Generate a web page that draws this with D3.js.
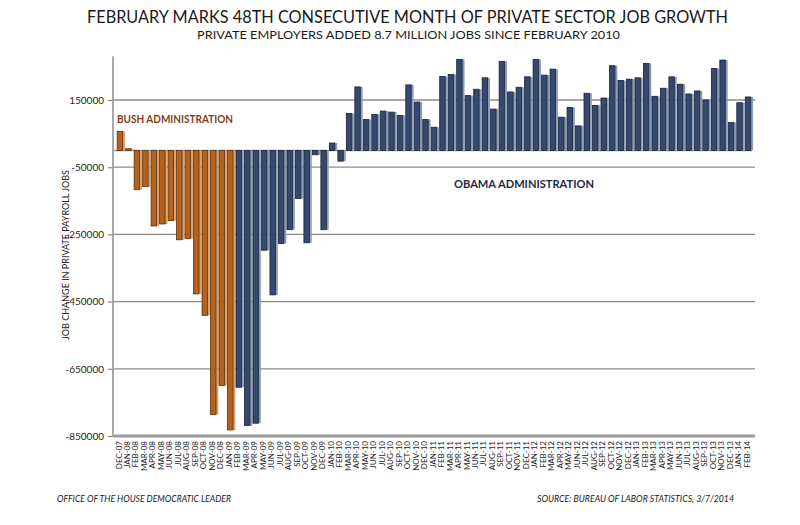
<!DOCTYPE html>
<html>
<head>
<meta charset="utf-8">
<script src="https://cdn.jsdelivr.net/npm/d3@7"></script>
<style>
html,body{margin:0;padding:0;background:#fff;}
svg{display:block;font-family:Lato,"Open Sans",sans-serif;}
</style>
</head>
<body>
<svg id="chart" width="800" height="525"></svg>
<script>
const months = ["DEC-07","JAN-08","FEB-08","MAR-08","APR-08","MAY-08","JUN-08","JUL-08","AUG-08","SEP-08","OCT-08","NOV-08","DEC-08",
"JAN-09","FEB-09","MAR-09","APR-09","MAY-09","JUN-09","JUL-09","AUG-09","SEP-09","OCT-09","NOV-09","DEC-09",
"JAN-10","FEB-10","MAR-10","APR-10","MAY-10","JUN-10","JUL-10","AUG-10","SEP-10","OCT-10","NOV-10","DEC-10",
"JAN-11","FEB-11","MAR-11","APR-11","MAY-11","JUN-11","JUL-11","AUG-11","SEP-11","OCT-11","NOV-11","DEC-11",
"JAN-12","FEB-12","MAR-12","APR-12","MAY-12","JUN-12","JUL-12","AUG-12","SEP-12","OCT-12","NOV-12","DEC-12",
"JAN-13","FEB-13","MAR-13","APR-13","MAY-13","JUN-13","JUL-13","AUG-13","SEP-13","OCT-13","NOV-13","DEC-13",
"JAN-14","FEB-14"];

// Bush administration: DEC-07 .. JAN-09
const bushJobs = [56000, 5000, -117000, -108000, -225000, -219000, -209000, -266000, -262000, -427000, -491000, -786000, -700000, -832000];

// Obama administration: FEB-09 .. FEB-14
const obamaJobs = [-705000, -819000, -812000, -297000, -430000, -277000, -236000, -143000, -275000, -13000, -236000, 22000, -32000,
110000, 189000, 92000, 107000, 117000, 114000, 104000, 195000, 144000, 92000, 69000, 220000,
226000, 271000, 163000, 182000, 216000, 123000, 265000, 174000, 188000, 219000, 271000, 224000,
242000, 99000, 128000, 73000, 170000, 134000, 156000, 252000, 208000, 212000, 216000, 259000,
161000, 185000, 219000, 197000, 168000, 177000, 150000, 244000, 269000, 83000, 142000, 159000];

const yTicks = [150000, -50000, -250000, -450000, -650000, -850000];

const data = months.map((m, i) => ({
  month: m,
  value: i < bushJobs.length ? bushJobs[i] : obamaJobs[i - bushJobs.length],
  admin: i < bushJobs.length ? "bush" : "obama"
}));

const svg = d3.select("#chart");

const x = d3.scaleBand().domain(months).range([117, 752.5]).paddingInner(0.17).paddingOuter(0.02);
const y = d3.scaleLinear().domain([-850000, 150000]).range([436, 100]);

const colors = {
  bush: {fill: "#b4621f", stroke: "#5e300c", side: "#dba06a"},
  obama: {fill: "#35496d", stroke: "#18223a", side: "#8c9cba"}
};

// Titles
svg.append("text").attr("x", 407.5).attr("y", 23).attr("text-anchor", "middle")
  .attr("font-size", 18).attr("fill", "#1a1a1a")
  .attr("textLength", 641).attr("lengthAdjust", "spacingAndGlyphs")
  .text("FEBRUARY MARKS 48TH CONSECUTIVE MONTH OF PRIVATE SECTOR JOB GROWTH");
svg.append("text").attr("x", 408.5).attr("y", 39).attr("text-anchor", "middle")
  .attr("font-size", 12).attr("fill", "#1a1a1a")
  .attr("textLength", 423).attr("lengthAdjust", "spacingAndGlyphs")
  .text("PRIVATE EMPLOYERS ADDED 8.7 MILLION JOBS SINCE FEBRUARY 2010");

// Gridlines
svg.append("g").selectAll("line").data(yTicks).join("line")
  .attr("x1", 114).attr("x2", 755)
  .attr("y1", d => y(d)).attr("y2", d => y(d))
  .attr("stroke", d => d === -850000 ? "#9a9a9a" : "#8c8c8c")
  .attr("stroke-width", d => d === -850000 ? 3 : 1.3);

// Y axis
const yAxis = d3.axisLeft(y).tickValues(yTicks).tickSize(5).tickPadding(4).tickFormat(d => String(d));
const yg = svg.append("g").attr("transform", "translate(113,0)").call(yAxis);
yg.select(".domain").remove();
yg.selectAll(".tick line").attr("stroke", "#888").attr("stroke-width", 1.2);
yg.selectAll(".tick text").attr("font-size", 10).attr("fill", "#222").attr("font-family", "Lato, sans-serif");
svg.append("line").attr("x1", 113).attr("x2", 113).attr("y1", y(280000)).attr("y2", y(-850000) + 1)
  .attr("stroke", "#8c8c8c").attr("stroke-width", 1.5);

// Zero baseline
svg.append("line").attr("x1", 114).attr("x2", 752).attr("y1", y(0)).attr("y2", y(0))
  .attr("stroke", "#9a9a9a").attr("stroke-width", 1.5);

// Bars
const bw = x.bandwidth();
const sideW = 1.6;
const bars = svg.append("g").selectAll("g").data(data).join("g");
bars.append("rect")
  .attr("x", d => x(d.month) + bw - sideW)
  .attr("y", d => Math.min(y(d.value), y(0)))
  .attr("width", sideW + 0.8)
  .attr("height", d => Math.max(1, Math.abs(y(d.value) - y(0))))
  .attr("fill", d => colors[d.admin].side);
bars.append("rect")
  .attr("x", d => x(d.month))
  .attr("y", d => Math.min(y(d.value), y(0)))
  .attr("width", bw - sideW)
  .attr("height", d => Math.max(1, Math.abs(y(d.value) - y(0))))
  .attr("fill", d => colors[d.admin].fill)
  .attr("stroke", d => colors[d.admin].stroke)
  .attr("stroke-width", 0.8);

// X labels
svg.append("g").selectAll("text").data(months).join("text")
  .attr("transform", d => `translate(${x(d) + bw / 2 - 2},441) rotate(-90)`)
  .attr("dy", "0.35em")
  .attr("text-anchor", "end")
  .attr("font-size", 8)
  .attr("fill", "#222")
  .text(d => d);

// Y title
svg.append("text").attr("transform", "translate(69,255) rotate(-90)")
  .attr("text-anchor", "middle").attr("font-size", 10).attr("fill", "#222")
  .attr("textLength", 170).attr("lengthAdjust", "spacingAndGlyphs")
  .text("JOB CHANGE IN PRIVATE PAYROLL JOBS");

// Annotations
svg.append("text").attr("x", 117).attr("y", 123)
  .attr("font-size", 12).attr("font-weight", "bold").attr("fill", "#7f3f14")
  .attr("textLength", 116).attr("lengthAdjust", "spacingAndGlyphs")
  .text("BUSH ADMINISTRATION");
svg.append("text").attr("x", 454).attr("y", 188)
  .attr("font-size", 12).attr("font-weight", "bold").attr("fill", "#1c2a45")
  .attr("textLength", 140).attr("lengthAdjust", "spacingAndGlyphs")
  .text("OBAMA ADMINISTRATION");

// Footers
svg.append("text").attr("x", 57).attr("y", 502)
  .attr("font-size", 9).attr("font-style", "italic").attr("fill", "#1a1a1a")
  .attr("textLength", 174).attr("lengthAdjust", "spacingAndGlyphs")
  .text("OFFICE OF THE HOUSE DEMOCRATIC LEADER");
svg.append("text").attr("x", 734).attr("y", 502).attr("text-anchor", "end")
  .attr("font-size", 9).attr("font-style", "italic").attr("fill", "#1a1a1a")
  .attr("textLength", 197).attr("lengthAdjust", "spacingAndGlyphs")
  .text("SOURCE: BUREAU OF LABOR STATISTICS, 3/7/2014");
</script>
</body>
</html>
